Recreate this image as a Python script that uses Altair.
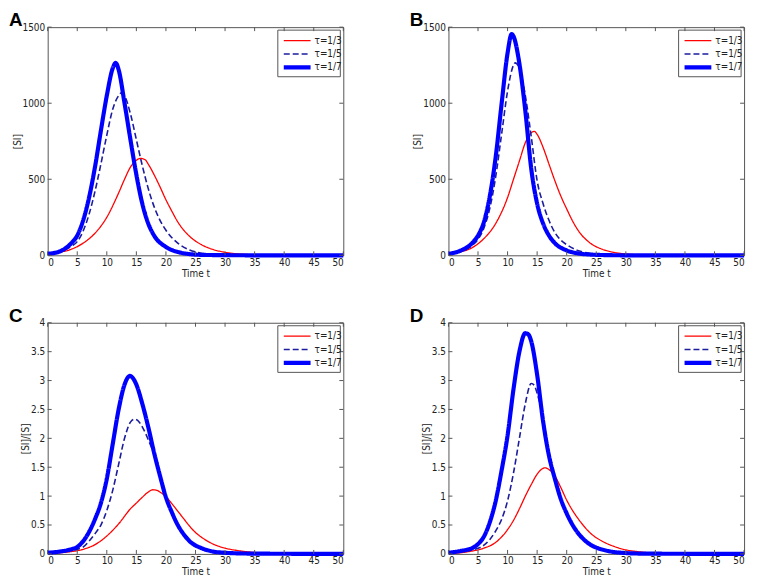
import altair as alt
import pandas as pd

LABELS = ["τ=1/3", "τ=1/5", "τ=1/7"]
COLORS = ["#ff0000", "#1c1c9e", "#0000ff"]
DASHES = [[1, 0], [6, 3], [1, 0]]
WIDTHS = [1.3, 1.6, 4.2]

X_TICKS = [0, 5, 10, 15, 20, 25, 30, 35, 40, 45, 50]
Y_TICKS_SI = [0, 500, 1000, 1500]
Y_TICKS_RATIO = [0, 0.5, 1, 1.5, 2, 2.5, 3, 3.5, 4]

# ---- Panel A : [SI] ----
A_T_RED = [0, 2, 4, 6, 8, 10, 12, 13, 14, 15, 15.7, 16.5, 17, 18, 19, 20, 21, 22, 24, 26, 28, 30, 32, 34, 36, 40, 50]
A_V_RED = [8, 20, 40, 80, 145, 250, 410, 500, 580, 625, 637, 628, 600, 530, 450, 365, 290, 220, 125, 70, 38, 20, 10, 5, 2, 1, 0]
A_T_DASH = [0, 2, 4, 5, 6, 7, 8, 9, 10, 11, 12, 12.5, 13, 14, 15, 16, 17, 18, 19, 20, 22, 24, 26, 28, 30, 35, 50]
A_V_DASH = [10, 22, 60, 90, 160, 270, 420, 600, 790, 960, 1050, 1068, 1050, 930, 760, 590, 440, 320, 230, 165, 80, 35, 14, 5, 2, 0, 0]
A_T_BLUE = [0, 2, 4, 5, 6, 7, 8, 9, 10, 11, 11.5, 12, 13, 14, 15, 16, 17, 18, 20, 22, 24, 26, 30, 35, 50]
A_V_BLUE = [10, 25, 80, 130, 230, 380, 580, 820, 1050, 1230, 1265, 1220, 1000, 760, 530, 340, 210, 130, 55, 22, 8, 3, 1, 0, 0]

# ---- Panel B : [SI] ----
B_T_RED = [0, 2, 4, 6, 8, 10, 11, 12, 13, 14, 14.5, 15, 16, 17, 18, 19, 20, 21, 22, 24, 26, 28, 30, 32, 35, 50]
B_V_RED = [8, 22, 50, 110, 210, 380, 500, 620, 740, 805, 815, 795, 710, 600, 490, 390, 305, 225, 160, 80, 40, 19, 9, 4, 1, 0]
B_T_DASH = [0, 2, 4, 5, 6, 7, 8, 9, 10, 11, 11.3, 12, 13, 14, 15, 16, 17, 18, 19, 20, 22, 24, 26, 28, 50]
B_V_DASH = [10, 25, 65, 105, 180, 310, 520, 800, 1080, 1250, 1265, 1230, 1050, 780, 490, 340, 230, 150, 100, 70, 30, 12, 4, 1, 0]
B_T_BLUE = [0, 2, 4, 5, 6, 7, 8, 9, 10, 10.7, 11, 12, 13, 14, 15, 16, 17, 18, 20, 22, 24, 26, 30, 50]
B_V_BLUE = [10, 30, 80, 130, 220, 390, 650, 1000, 1330, 1455, 1440, 1260, 950, 570, 340, 210, 130, 80, 32, 12, 5, 2, 0, 0]

# ---- Panel C : [SI]/[S] ----
C_T_RED = [0, 2, 4, 6, 8, 10, 12, 14, 15, 16, 17, 17.8, 18.5, 19, 20, 21, 22, 23, 24, 25, 26, 28, 30, 32, 35, 38, 40, 50]
C_V_RED = [0.01, 0.02, 0.04, 0.08, 0.16, 0.31, 0.52, 0.78, 0.88, 0.98, 1.07, 1.11, 1.10, 1.07, 0.99, 0.87, 0.74, 0.61, 0.48, 0.37, 0.29, 0.17, 0.10, 0.06, 0.025, 0.01, 0.005, 0]
C_T_DASH = [0, 2, 4, 6, 7, 8, 9, 10, 11, 12, 13, 14, 14.7, 15.5, 16, 17, 18, 19, 20, 21, 22, 23, 24, 26, 28, 30, 50]
C_V_DASH = [0.02, 0.03, 0.06, 0.12, 0.22, 0.35, 0.5, 0.75, 1.1, 1.55, 2.0, 2.28, 2.33, 2.28, 2.2, 1.98, 1.72, 1.35, 0.98, 0.72, 0.5, 0.34, 0.22, 0.1, 0.04, 0.02, 0]
C_T_BLUE = [0, 2, 4, 5, 6, 7, 8, 9, 10, 11, 12, 13, 13.9, 14.5, 15, 16, 17, 18, 19, 20, 21, 22, 23, 24, 26, 28, 30, 32, 35, 50]
C_V_BLUE = [0.02, 0.04, 0.08, 0.12, 0.22, 0.38, 0.6, 0.88, 1.3, 1.9, 2.5, 2.93, 3.08, 3.03, 2.93, 2.6, 2.2, 1.75, 1.35, 0.98, 0.72, 0.5, 0.34, 0.22, 0.1, 0.04, 0.02, 0.01, 0.005, 0]

# ---- Panel D : [SI]/[S] ----
D_T_RED = [0, 2, 4, 6, 8, 10, 11, 12, 13, 14, 15, 16, 16.3, 17, 18, 19, 20, 21, 22, 23, 24, 26, 28, 30, 32, 35, 40, 50]
D_V_RED = [0.01, 0.02, 0.05, 0.1, 0.2, 0.42, 0.58, 0.78, 1.0, 1.2, 1.38, 1.48, 1.49, 1.46, 1.35, 1.15, 0.93, 0.75, 0.6, 0.47, 0.36, 0.22, 0.13, 0.07, 0.04, 0.015, 0.003, 0]
D_T_DASH = [0, 2, 4, 6, 7, 8, 9, 10, 11, 12, 13, 14, 14.5, 15, 16, 17, 18, 19, 20, 21, 22, 23, 24, 25, 27, 30, 50]
D_V_DASH = [0.02, 0.04, 0.07, 0.15, 0.25, 0.4, 0.6, 0.92, 1.4, 2.0, 2.6, 2.95, 2.92, 2.78, 2.35, 1.75, 1.3, 0.95, 0.7, 0.5, 0.35, 0.24, 0.16, 0.11, 0.05, 0.015, 0]
D_T_BLUE = [0, 2, 4, 5, 6, 7, 8, 9, 10, 11, 12, 13, 13.5, 14, 15, 16, 17, 18, 19, 20, 21, 22, 23, 24, 25, 27, 30, 33, 50]
D_V_BLUE = [0.02, 0.05, 0.1, 0.17, 0.3, 0.55, 0.92, 1.45, 2.05, 2.85, 3.5, 3.82, 3.8, 3.68, 3.1, 2.3, 1.7, 1.3, 0.95, 0.7, 0.5, 0.35, 0.24, 0.16, 0.11, 0.05, 0.015, 0.005, 0]

NARROW = "Liberation Sans Narrow, Arial Narrow, DejaVu Sans Condensed, sans-serif"
W = 298
FRAME = "#555555"


def make_panel(letter, ytitle, ymax, yticks, yfmt, series, height):
    rows = []
    for lab, (ts, vs) in zip(LABELS, series):
        for t, v in zip(ts, vs):
            rows.append({"t": t, "v": v, "series": lab})
    df = pd.DataFrame(rows)
    xs = alt.Scale(domain=[0, 50], nice=False, zero=False)
    ys = alt.Scale(domain=[0, ymax], nice=False)
    cs = alt.Scale(domain=LABELS, range=COLORS)
    ds = alt.Scale(domain=LABELS, range=DASHES)
    ws = alt.Scale(type="ordinal", domain=LABELS, range=WIDTHS)
    xaxis = alt.Axis(values=X_TICKS, title="Time t", format="d", labelPadding=2, titlePadding=1,
                     grid=False, domain=False, ticks=False)
    yaxis = alt.Axis(values=yticks, title=ytitle, format=yfmt, labelPadding=3, titlePadding=0,
                     grid=False, domain=False, ticks=False)
    style = dict(
        color=alt.Color("series:N", scale=cs, legend=None),
        strokeDash=alt.StrokeDash("series:N", scale=ds, legend=None),
        strokeWidth=alt.StrokeWidth("series:N", scale=ws, legend=None),
    )
    lines = alt.Chart(df).mark_line(interpolate="monotone").encode(
        x=alt.X("t:Q", scale=xs, axis=xaxis),
        y=alt.Y("v:Q", scale=ys, axis=yaxis),
        **style,
    )
    xt = alt.Chart(pd.DataFrame({"t": X_TICKS}))
    yt = alt.Chart(pd.DataFrame({"v": yticks}))
    tk = dict(color=FRAME, strokeWidth=1)
    xb = xt.mark_rule(**tk).encode(x=alt.X("t:Q", scale=xs, axis=xaxis),
                                   y=alt.value(height), y2=alt.value(height - 4))
    xtop = xt.mark_rule(**tk).encode(x=alt.X("t:Q", scale=xs, axis=xaxis),
                                     y=alt.value(0), y2=alt.value(4))
    yl = yt.mark_rule(**tk).encode(y=alt.Y("v:Q", scale=ys, axis=yaxis),
                                   x=alt.value(0), x2=alt.value(4))
    yr = yt.mark_rule(**tk).encode(y=alt.Y("v:Q", scale=ys, axis=yaxis),
                                   x=alt.value(W), x2=alt.value(W - 4))
    tag = alt.Chart(pd.DataFrame({"lab": [letter]})).mark_text(
        fontSize=19, fontWeight="bold", font="Liberation Sans, Arial, sans-serif",
        color="black", align="left", baseline="alphabetic",
    ).encode(text="lab:N", x=alt.value(-39), y=alt.value(-1))

    # legend frame (top-right of the plot), edges expressed through the panel scales
    lx0, lx1, ly0, ly1 = W - 66, W - 3, 3, 50
    fx0, fx1 = 50 * lx0 / W, 50 * lx1 / W
    fy0, fy1 = ymax * (1 - ly0 / height), ymax * (1 - ly1 / height)
    edges = pd.DataFrame({
        "ex": [fx0, fx0, fx0, fx1],
        "ex2": [fx1, fx1, fx0, fx1],
        "ey": [fy0, fy1, fy0, fy0],
        "ey2": [fy0, fy1, fy1, fy1],
    })
    box = alt.Chart(edges).mark_rule(color=FRAME, strokeWidth=1).encode(
        x=alt.X("ex:Q", scale=xs, axis=xaxis), x2="ex2:Q",
        y=alt.Y("ey:Q", scale=ys, axis=yaxis), y2="ey2:Q",
    )
    legend_layers = [box]
    for i, lab in enumerate(LABELS):
        ent = alt.Chart(pd.DataFrame({"series": [lab]}))
        yy = 13.5 + 13.5 * i
        legend_layers.append(
            ent.mark_rule().encode(x=alt.value(lx0 + 6), x2=alt.value(lx0 + 33),
                                   y=alt.value(yy), **style)
        )
        legend_layers.append(
            ent.mark_text(align="left", baseline="middle", font=NARROW, fontSize=10,
                          color="#222222").encode(
                text="series:N", x=alt.value(lx0 + 37), y=alt.value(yy))
        )
    return alt.layer(lines, xb, xtop, yl, yr, *legend_layers, tag).properties(
        width=W, height=height)


pA = make_panel("A", "[SI]", 1500, Y_TICKS_SI, "d",
                [(A_T_RED, A_V_RED), (A_T_DASH, A_V_DASH), (A_T_BLUE, A_V_BLUE)], 230)
pB = make_panel("B", "[SI]", 1500, Y_TICKS_SI, "d",
                [(B_T_RED, B_V_RED), (B_T_DASH, B_V_DASH), (B_T_BLUE, B_V_BLUE)], 230)
pC = make_panel("C", "[SI]/[S]", 4, Y_TICKS_RATIO, ".1~f",
                [(C_T_RED, C_V_RED), (C_T_DASH, C_V_DASH), (C_T_BLUE, C_V_BLUE)], 233)
pD = make_panel("D", "[SI]/[S]", 4, Y_TICKS_RATIO, ".1~f",
                [(D_T_RED, D_V_RED), (D_T_DASH, D_V_DASH), (D_T_BLUE, D_V_BLUE)], 233)

chart = alt.concat(pA, pB, pC, pD, columns=2, spacing={"row": 68, "column": 106},
                   bounds="flush").properties(padding=0, background="white").resolve_scale(
    x="independent", y="independent",
    color="independent", strokeDash="independent", strokeWidth="independent"
).configure_view(
    stroke=FRAME, strokeWidth=1
).configure_axis(
    grid=False, domain=False, ticks=False,
    labelFont=NARROW, labelFontSize=10, labelColor="#222222",
    titleFont=NARROW, titleFontSize=10, titleFontWeight="normal", titleColor="#222222",
)

chart.save("out.html", embed_options={"renderer": "svg", "actions": False})
